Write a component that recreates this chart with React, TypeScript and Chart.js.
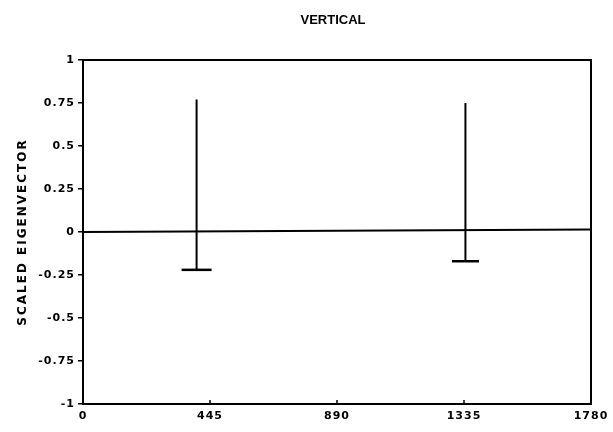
import { useEffect, useRef } from "react";
import { Chart, registerables } from "chart.js";

Chart.register(...registerables);

// Axis ticks
const xTickValues = [0, 445, 890, 1335, 1780];
const yTickValues = [-1, -0.75, -0.5, -0.25, 0, 0.25, 0.5, 0.75, 1];

// Eigenvector spikes: position, upper end, lower end
const spikePositions = [398, 1340];
const spikeTops = [0.77, 0.75];
const spikeBottoms = [-0.22, -0.17];

// Zero reference line
const baselineX = [0, 1780];
const baselineY = [0, 0.015];

const titleText = "VERTICAL";
const yAxisTitle = "SCALED EIGENVECTOR";

const FONT = '"DejaVu Sans", sans-serif';
const TITLE_FONT = '"Liberation Sans", Arial, sans-serif';
const INK = "#000";

const capRadius = [15, 13.5];

const framePlugin = {
  id: "frame",
  beforeDraw(chart: any) {
    chart.ctx.letterSpacing = "1px";
  },
  afterDraw(chart: any) {
    const { ctx, chartArea } = chart;
    const { left, right, top, bottom } = chartArea;
    ctx.save();
    ctx.strokeStyle = INK;
    ctx.lineWidth = 2;
    ctx.strokeRect(left, top, right - left, bottom - top);

    // inward x ticks
    const xs = chart.scales.x;
    ctx.lineWidth = 1.5;
    ctx.beginPath();
    for (const v of xTickValues) {
      const px = xs.getPixelForValue(v);
      ctx.moveTo(px, bottom);
      ctx.lineTo(px, bottom - 4);
    }
    ctx.stroke();

    ctx.fillStyle = INK;
    ctx.letterSpacing = "0px";
    ctx.font = `bold 13px ${TITLE_FONT}`;
    ctx.textAlign = "center";
    ctx.textBaseline = "middle";
    ctx.fillText(titleText, 333, 20);

    ctx.translate(23, (top + bottom) / 2);
    ctx.rotate(-Math.PI / 2);
    ctx.letterSpacing = "2px";
    ctx.font = `bold 12px ${FONT}`;
    ctx.fillText(yAxisTitle, 0, 0);
    ctx.restore();
  },
};

export default function App() {
  const canvasRef = useRef<HTMLCanvasElement>(null);

  useEffect(() => {
    document.body.style.margin = "0";
    const canvas = canvasRef.current;
    if (!canvas) return;

    const spikeSets = spikePositions.map((x, i) => ({
      data: [
        { x, y: spikeTops[i] },
        { x, y: spikeBottoms[i] },
      ],
      showLine: true,
      borderColor: INK,
      borderWidth: 2,
      pointStyle: "line" as const,
      pointRadius: [0, capRadius[i]],
      pointBorderWidth: 2.5,
      pointBorderColor: INK,
      pointBackgroundColor: INK,
    }));

    const baselineSet = {
      data: baselineX.map((x, i) => ({ x, y: baselineY[i] })),
      showLine: true,
      borderColor: INK,
      borderWidth: 2,
      pointRadius: 0,
    };

    const chart = new Chart(canvas, {
      type: "scatter",
      data: { datasets: [baselineSet, ...spikeSets] as any },
      options: {
        responsive: false,
        animation: false,
        events: [],
        layout: { padding: { top: 60, right: 22, left: 0, bottom: 0 } },
        plugins: {
          legend: { display: false },
          tooltip: { enabled: false },
          title: { display: false },
        },
        scales: {
          x: {
            type: "linear",
            min: 0,
            max: 1780,
            afterBuildTicks: (s: any) => {
              s.ticks = xTickValues.map((value) => ({ value }));
            },
            afterFit: (s: any) => {
              s.height = 28;
            },
            border: { display: false },
            grid: { display: true, drawOnChartArea: false, drawTicks: false },
            ticks: {
              color: INK,
              padding: 6,
              maxRotation: 0,
              autoSkip: false,
              font: { family: FONT, size: 11, weight: "bold" },
              callback: (v: any) => String(v),
            },
          },
          y: {
            type: "linear",
            min: -1,
            max: 1,
            afterBuildTicks: (s: any) => {
              s.ticks = yTickValues.map((value) => ({ value }));
            },
            afterFit: (s: any) => {
              s.width = 83;
            },
            border: { display: false },
            grid: {
              display: true,
              drawOnChartArea: false,
              drawTicks: true,
              tickLength: 5,
              color: INK,
              lineWidth: 1.5,
            },
            ticks: {
              color: INK,
              padding: 3,
              autoSkip: false,
              font: { family: FONT, size: 11, weight: "bold" },
              callback: (v: any) => String(v),
            },
          },
        },
      },
      plugins: [framePlugin],
    });

    return () => chart.destroy();
  }, []);

  return (
    <div style={{ width: 613, height: 432, background: "#fff" }}>
      <canvas ref={canvasRef} width={613} height={432} />
    </div>
  );
}
